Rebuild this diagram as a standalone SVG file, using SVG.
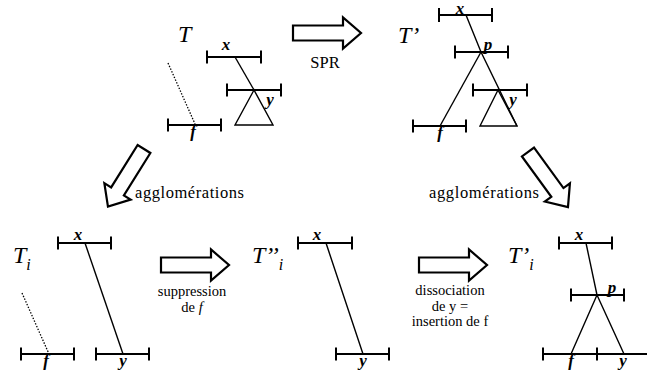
<svg xmlns="http://www.w3.org/2000/svg" width="647" height="379" viewBox="0 0 647 379">
<defs>
<style>
.bar{stroke:#000;stroke-width:2;fill:none}
.ln{stroke:#000;stroke-width:1.4;fill:none}
.dot{stroke:#000;stroke-width:1.3;stroke-dasharray:1.5 1.5;fill:none}
.tri{stroke:#000;stroke-width:1.4;fill:none}
.arr{stroke:#000;stroke-width:2.2;fill:#fff;stroke-linejoin:miter}
text{font-family:"Liberation Serif","Times New Roman","DejaVu Serif",serif}
.lbl{font-style:italic;font-weight:bold;font-size:17px;text-anchor:middle}
.big{font-style:italic;font-size:24px}
.sub{font-size:16px}
.txt{font-size:16.5px}
.sm{font-size:14.5px}
.mid{text-anchor:middle}
</style>
<path id="harrow" d="M0,-7.5 H50 V-15.5 L68,0 L50,15.5 V7.5 H0 Z"/>
</defs>

<g id="tree-T">
<text class="big" x="178" y="42">T</text>
<path class="bar" d="M207,57H261M207,50.5V63.5M261,50.5V63.5"/>
<text class="lbl" x="226" y="50">x</text>
<path class="ln" d="M235,57L254,90"/>
<path class="bar" d="M227,90H281M227,83.5V96.5M281,83.5V96.5"/>
<path class="tri" d="M254,90L235,125H273Z"/>
<text class="lbl" x="270" y="105">y</text>
<path class="dot" d="M168,63L195,124"/>
<path class="bar" d="M168,125H221M168,118.5V131.5M221,118.5V131.5"/>
<text class="lbl" x="193" y="137">f</text>
</g>

<g id="tree-Tprime">
<text class="big" x="398" y="43">T’</text>
<path class="bar" d="M439,15H492M439,8V22M492,8V22"/>
<text class="lbl" x="460" y="13.5" font-size="16">x</text>
<path class="ln" d="M466,15L481,52L517,126"/>
<path class="bar" d="M455,52H508M455,45.5V58.5M508,45.5V58.5"/>
<text class="lbl" x="488" y="50">p</text>
<path class="bar" d="M473,90H527M473,83.5V96.5M527,83.5V96.5"/>
<path class="tri" d="M498,90L480,126H517Z"/>
<text class="lbl" x="513" y="105">y</text>
<path class="ln" d="M481,52L440,126"/>
<path class="bar" d="M413,126H466M413,119.5V132.5M466,119.5V132.5"/>
<text class="lbl" x="440" y="138">f</text>
</g>

<g id="tree-Ti">
<text class="big" x="13" y="263">T<tspan class="sub" dy="7">i</tspan></text>
<path class="bar" d="M58,243H111M58,236.5V249.5M111,236.5V249.5"/>
<text class="lbl" x="78" y="240">x</text>
<path class="ln" d="M85,243L123,354"/>
<path class="dot" d="M22,293L49,354"/>
<path class="bar" d="M21,354H74M21,347.5V360.5M74,347.5V360.5"/>
<text class="lbl" x="46" y="366">f</text>
<path class="bar" d="M96,354H149M96,347.5V360.5M149,347.5V360.5"/>
<text class="lbl" x="123" y="366">y</text>
</g>

<g id="tree-Tsecond-i">
<text class="big" x="252" y="263">T’’<tspan class="sub" dy="7">i</tspan></text>
<path class="bar" d="M298,243H352M298,236.5V249.5M352,236.5V249.5"/>
<text class="lbl" x="317" y="240">x</text>
<path class="ln" d="M326,243L363,354"/>
<path class="bar" d="M336,354H389M336,347.5V360.5M389,347.5V360.5"/>
<text class="lbl" x="363" y="366">y</text>
</g>

<g id="tree-Tprime-i">
<text class="big" x="508" y="263">T’<tspan class="sub" dy="7">i</tspan></text>
<path class="bar" d="M559,243H612M559,236.5V249.5M612,236.5V249.5"/>
<text class="lbl" x="579" y="240">x</text>
<path class="ln" d="M586,243L597,295"/>
<path class="bar" d="M571,295H624M571,288.5V301.5M624,288.5V301.5"/>
<text class="lbl" x="612" y="293">p</text>
<path class="ln" d="M597,295L571,354M597,295L624,354"/>
<path class="bar" d="M543,354H652M543,347.5V360.5M597,347.5V360.5"/>
<text class="lbl" x="571" y="366">f</text>
<text class="lbl" x="623" y="366">y</text>
</g>

<g id="connectors">
<use href="#harrow" class="arr" transform="translate(293,33)"/>
<text class="txt mid" x="325" y="68">SPR</text>
<use href="#harrow" class="arr" transform="translate(144,149) rotate(122)"/>
<text class="txt" x="135" y="198" textLength="109">agglomérations</text>
<use href="#harrow" class="arr" transform="translate(528,152) rotate(54)"/>
<text class="txt" x="429" y="198" textLength="110">agglomérations</text>
<use href="#harrow" class="arr" transform="translate(161,265)"/>
<text class="sm mid" x="192" y="296">suppression</text>
<text class="sm mid" x="192" y="312">de <tspan font-style="italic">f</tspan></text>
<use href="#harrow" class="arr" transform="translate(419,265)"/>
<text class="sm mid" x="450" y="295">dissociation</text>
<text class="sm mid" x="450" y="310.5">de y =</text>
<text class="sm mid" x="450" y="326">insertion de f</text>
</g>
</svg>
